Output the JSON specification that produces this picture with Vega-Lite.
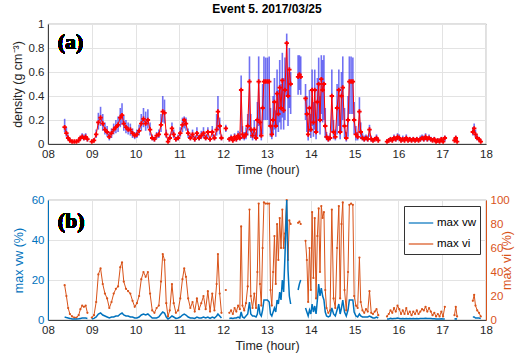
{
  "$schema": "https://vega.github.io/schema/vega-lite/v6.json",
  "padding": {"left": 10, "top": 2, "right": 2, "bottom": 4},
  "spacing": 16,
  "resolve": {"scale": {"color": "independent"}, "legend": {"color": "independent"}},
  "config": {
    "font": "Liberation Sans",
    "view": {"stroke": "#404040", "strokeWidth": 0.8},
    "axis": {"labelFontSize": 11.5, "titleFontSize": 12.5, "labelColor": "#262626", "titleColor": "#262626", "titleFontWeight": "normal", "gridColor": "#e3e3e3", "domainColor": "#404040", "ticks": false, "labelPadding": 4, "labelOverlap": false},
    "legend": {"labelFontSize": 11, "labelFont": "Liberation Sans"}
  },
  "datasets": {
    "ts": [
      {"t":8.38,"d":0.14,"lo":0.10,"hi":0.21,"vw":1.5,"vi":29},
      {"t":8.42,"d":0.09,"lo":0.06,"hi":0.14,"vw":1.2,"vi":20},
      {"t":8.46,"d":0.05,"lo":0.03,"hi":0.08,"vw":1.0,"vi":10},
      {"t":8.50,"d":0.03,"lo":0.02,"hi":0.05,"vw":0.8,"vi":5},
      {"t":8.55,"d":0.02,"lo":0.01,"hi":0.03,"vw":0.5,"vi":3},
      {"t":8.60,"d":0.02,"lo":0.01,"hi":0.03,"vw":0.5,"vi":2},
      {"t":8.65,"d":0.02,"lo":0.01,"hi":0.03,"vw":0.5,"vi":2},
      {"t":8.70,"d":0.03,"lo":0.02,"hi":0.05,"vw":0.6,"vi":4},
      {"t":8.74,"d":0.05,"lo":0.03,"hi":0.07,"vw":0.8,"vi":9},
      {"t":8.78,"d":0.06,"lo":0.04,"hi":0.09,"vw":1.0,"vi":12},
      {"t":8.82,"d":0.05,"lo":0.03,"hi":0.08,"vw":1.0,"vi":11},
      {"t":8.86,"d":0.06,"lo":0.04,"hi":0.09,"vw":1.0,"vi":12},
      {"t":8.90,"d":0.04,"lo":0.02,"hi":0.06,"vw":0.8,"vi":6},
      {"t":8.95,"d":null,"lo":null,"hi":null,"vw":null,"vi":null},
      {"t":9.00,"d":0.02,"lo":0.01,"hi":0.03,"vw":0.5,"vi":2},
      {"t":9.05,"d":0.03,"lo":0.02,"hi":0.05,"vw":0.8,"vi":4},
      {"t":9.10,"d":0.08,"lo":0.05,"hi":0.12,"vw":1.5,"vi":15},
      {"t":9.15,"d":0.18,"lo":0.12,"hi":0.26,"vw":3,"vi":38},
      {"t":9.20,"d":0.22,"lo":0.15,"hi":0.31,"vw":3.5,"vi":43},
      {"t":9.25,"d":0.17,"lo":0.11,"hi":0.25,"vw":2.5,"vi":30},
      {"t":9.30,"d":0.12,"lo":0.08,"hi":0.18,"vw":2,"vi":22},
      {"t":9.35,"d":0.10,"lo":0.06,"hi":0.15,"vw":1.5,"vi":18},
      {"t":9.40,"d":0.06,"lo":0.03,"hi":0.10,"vw":1,"vi":10},
      {"t":9.45,"d":0.09,"lo":0.05,"hi":0.13,"vw":1.5,"vi":15},
      {"t":9.50,"d":0.12,"lo":0.08,"hi":0.17,"vw":1.5,"vi":22},
      {"t":9.55,"d":0.14,"lo":0.09,"hi":0.20,"vw":2,"vi":26},
      {"t":9.60,"d":0.16,"lo":0.10,"hi":0.23,"vw":2,"vi":28},
      {"t":9.65,"d":0.22,"lo":0.14,"hi":0.30,"vw":3,"vi":44},
      {"t":9.69,"d":0.24,"lo":0.16,"hi":0.34,"vw":3.5,"vi":48},
      {"t":9.73,"d":0.17,"lo":0.11,"hi":0.24,"vw":2.5,"vi":32},
      {"t":9.78,"d":0.14,"lo":0.09,"hi":0.20,"vw":2,"vi":26},
      {"t":9.83,"d":0.12,"lo":0.08,"hi":0.18,"vw":2,"vi":24},
      {"t":9.88,"d":0.12,"lo":0.07,"hi":0.17,"vw":1.5,"vi":22},
      {"t":9.93,"d":0.09,"lo":0.05,"hi":0.13,"vw":1.5,"vi":16},
      {"t":9.98,"d":0.07,"lo":0.04,"hi":0.10,"vw":1,"vi":11},
      {"t":10.03,"d":0.08,"lo":0.05,"hi":0.12,"vw":1,"vi":14},
      {"t":10.08,"d":0.11,"lo":0.07,"hi":0.16,"vw":1.5,"vi":20},
      {"t":10.13,"d":0.17,"lo":0.11,"hi":0.25,"vw":2.5,"vi":34},
      {"t":10.18,"d":0.21,"lo":0.14,"hi":0.30,"vw":3,"vi":40},
      {"t":10.23,"d":0.17,"lo":0.11,"hi":0.27,"vw":2.5,"vi":36},
      {"t":10.28,"d":0.20,"lo":0.13,"hi":0.29,"vw":3,"vi":40},
      {"t":10.33,"d":0.12,"lo":0.07,"hi":0.18,"vw":2,"vi":22},
      {"t":10.38,"d":0.05,"lo":0.03,"hi":0.08,"vw":1,"vi":8},
      {"t":10.43,"d":0.04,"lo":0.02,"hi":0.06,"vw":1,"vi":6},
      {"t":10.48,"d":0.07,"lo":0.04,"hi":0.10,"vw":1,"vi":10},
      {"t":10.53,"d":0.08,"lo":0.05,"hi":0.12,"vw":1.5,"vi":12},
      {"t":10.58,"d":0.16,"lo":0.10,"hi":0.25,"vw":3,"vi":32},
      {"t":10.62,"d":0.27,"lo":0.18,"hi":0.40,"vw":4,"vi":55},
      {"t":10.66,"d":0.26,"lo":0.17,"hi":0.37,"vw":3.5,"vi":50},
      {"t":10.70,"d":0.08,"lo":0.05,"hi":0.12,"vw":1.5,"vi":14},
      {"t":10.74,"d":0.02,"lo":0.01,"hi":0.04,"vw":0.5,"vi":3},
      {"t":10.78,"d":0.05,"lo":0.03,"hi":0.08,"vw":1,"vi":8},
      {"t":10.83,"d":0.13,"lo":0.08,"hi":0.18,"vw":2,"vi":30},
      {"t":10.87,"d":0.08,"lo":0.05,"hi":0.12,"vw":1.5,"vi":14},
      {"t":10.92,"d":0.04,"lo":0.02,"hi":0.06,"vw":0.8,"vi":6},
      {"t":10.97,"d":0.05,"lo":0.03,"hi":0.08,"vw":1,"vi":8},
      {"t":11.02,"d":0.09,"lo":0.06,"hi":0.14,"vw":1.5,"vi":18},
      {"t":11.07,"d":0.16,"lo":0.10,"hi":0.22,"vw":2.5,"vi":34},
      {"t":11.11,"d":0.20,"lo":0.13,"hi":0.23,"vw":3,"vi":43},
      {"t":11.15,"d":0.17,"lo":0.11,"hi":0.22,"vw":2.5,"vi":36},
      {"t":11.20,"d":0.09,"lo":0.05,"hi":0.13,"vw":1.5,"vi":18},
      {"t":11.25,"d":0.05,"lo":0.03,"hi":0.08,"vw":1,"vi":10},
      {"t":11.30,"d":0.08,"lo":0.05,"hi":0.12,"vw":1,"vi":15},
      {"t":11.35,"d":0.04,"lo":0.02,"hi":0.07,"vw":0.8,"vi":7},
      {"t":11.40,"d":0.09,"lo":0.05,"hi":0.14,"vw":1.5,"vi":18},
      {"t":11.45,"d":0.05,"lo":0.03,"hi":0.08,"vw":1,"vi":9},
      {"t":11.50,"d":0.07,"lo":0.04,"hi":0.11,"vw":1,"vi":14},
      {"t":11.55,"d":0.09,"lo":0.05,"hi":0.14,"vw":1.5,"vi":20},
      {"t":11.60,"d":0.05,"lo":0.03,"hi":0.08,"vw":1,"vi":9},
      {"t":11.65,"d":0.10,"lo":0.05,"hi":0.14,"vw":1.5,"vi":24},
      {"t":11.70,"d":0.04,"lo":0.02,"hi":0.06,"vw":0.8,"vi":7},
      {"t":11.75,"d":0.10,"lo":0.06,"hi":0.15,"vw":1.5,"vi":22},
      {"t":11.80,"d":0.05,"lo":0.03,"hi":0.08,"vw":1,"vi":8},
      {"t":11.85,"d":0.12,"lo":0.07,"hi":0.25,"vw":2,"vi":30},
      {"t":11.88,"d":0.27,"lo":0.12,"hi":0.40,"vw":3,"vi":55},
      {"t":11.92,"d":0.15,"lo":0.08,"hi":0.22,"vw":2,"vi":22},
      {"t":11.96,"d":0.05,"lo":0.03,"hi":0.08,"vw":1,"vi":6},
      {"t":12.00,"d":null,"lo":null,"hi":null,"vw":null,"vi":null},
      {"t":12.06,"d":0.13,"lo":0.10,"hi":0.16,"vw":1,"vi":25},
      {"t":12.10,"d":null,"lo":null,"hi":null,"vw":null,"vi":null},
      {"t":12.14,"d":0.04,"lo":0.02,"hi":0.06,"vw":0.8,"vi":6},
      {"t":12.18,"d":0.05,"lo":0.03,"hi":0.08,"vw":1,"vi":8},
      {"t":12.22,"d":0.03,"lo":0.02,"hi":0.05,"vw":0.8,"vi":5},
      {"t":12.26,"d":0.06,"lo":0.03,"hi":0.09,"vw":1,"vi":10},
      {"t":12.30,"d":0.04,"lo":0.02,"hi":0.07,"vw":1,"vi":7},
      {"t":12.34,"d":0.07,"lo":0.04,"hi":0.11,"vw":1.5,"vi":12},
      {"t":12.38,"d":0.05,"lo":0.03,"hi":0.10,"vw":1,"vi":9},
      {"t":12.41,"d":0.45,"lo":0.10,"hi":0.57,"vw":4,"vi":78},
      {"t":12.44,"d":0.08,"lo":0.04,"hi":0.15,"vw":1.5,"vi":12},
      {"t":12.48,"d":0.06,"lo":0.03,"hi":0.10,"vw":1,"vi":8},
      {"t":12.52,"d":0.08,"lo":0.04,"hi":0.14,"vw":2,"vi":14},
      {"t":12.56,"d":0.15,"lo":0.07,"hi":0.25,"vw":3,"vi":28},
      {"t":12.60,"d":0.52,"lo":0.12,"hi":0.73,"vw":9,"vi":92},
      {"t":12.63,"d":0.12,"lo":0.05,"hi":0.25,"vw":3,"vi":20},
      {"t":12.67,"d":0.07,"lo":0.03,"hi":0.12,"vw":2,"vi":10},
      {"t":12.71,"d":0.12,"lo":0.05,"hi":0.20,"vw":2,"vi":22},
      {"t":12.75,"d":0.05,"lo":0.03,"hi":0.10,"vw":1.5,"vi":10},
      {"t":12.78,"d":0.20,"lo":0.06,"hi":0.35,"vw":3,"vi":40},
      {"t":12.81,"d":0.52,"lo":0.15,"hi":0.73,"vw":8,"vi":97},
      {"t":12.84,"d":0.18,"lo":0.06,"hi":0.30,"vw":3,"vi":30},
      {"t":12.87,"d":0.07,"lo":0.03,"hi":0.12,"vw":2,"vi":12},
      {"t":12.90,"d":0.30,"lo":0.08,"hi":0.50,"vw":5,"vi":60},
      {"t":12.93,"d":0.52,"lo":0.20,"hi":0.73,"vw":10,"vi":98},
      {"t":12.97,"d":0.52,"lo":0.20,"hi":0.72,"vw":10,"vi":97},
      {"t":13.01,"d":0.52,"lo":0.20,"hi":0.72,"vw":10,"vi":97},
      {"t":13.05,"d":0.52,"lo":0.15,"hi":0.73,"vw":9,"vi":97},
      {"t":13.08,"d":0.15,"lo":0.06,"hi":0.30,"vw":3,"vi":25},
      {"t":13.11,"d":0.08,"lo":0.04,"hi":0.15,"vw":2,"vi":12},
      {"t":13.14,"d":0.20,"lo":0.08,"hi":0.40,"vw":4,"vi":40},
      {"t":13.17,"d":0.35,"lo":0.12,"hi":0.55,"vw":6,"vi":70},
      {"t":13.20,"d":0.15,"lo":0.06,"hi":0.28,"vw":4,"vi":30},
      {"t":13.23,"d":0.42,"lo":0.15,"hi":0.62,"vw":10,"vi":80},
      {"t":13.26,"d":0.25,"lo":0.10,"hi":0.45,"vw":8,"vi":50},
      {"t":13.29,"d":0.47,"lo":0.18,"hi":0.70,"vw":14,"vi":85},
      {"t":13.32,"d":0.30,"lo":0.12,"hi":0.50,"vw":10,"vi":60},
      {"t":13.35,"d":0.53,"lo":0.22,"hi":0.76,"vw":20,"vi":92},
      {"t":13.38,"d":0.28,"lo":0.12,"hi":0.55,"vw":14,"vi":60},
      {"t":13.41,"d":0.45,"lo":0.20,"hi":0.72,"vw":32,"vi":72},
      {"t":13.45,"d":0.84,"lo":0.40,"hi":0.92,"vw":60,"vi":100},
      {"t":13.48,"d":0.40,"lo":0.15,"hi":0.60,"vw":25,"vi":50},
      {"t":13.51,"d":0.62,"lo":0.30,"hi":0.80,"vw":12,"vi":83},
      {"t":13.54,"d":0.50,"lo":0.25,"hi":0.60,"vw":8,"vi":80},
      {"t":13.58,"d":null,"lo":null,"hi":null,"vw":null,"vi":null},
      {"t":13.71,"d":0.56,"lo":0.41,"hi":0.74,"vw":15,"vi":81},
      {"t":13.74,"d":0.58,"lo":0.45,"hi":0.74,"vw":18,"vi":82},
      {"t":13.77,"d":0.56,"lo":0.41,"hi":0.73,"vw":20,"vi":80},
      {"t":13.80,"d":null,"lo":null,"hi":null,"vw":null,"vi":null},
      {"t":13.88,"d":0.38,"lo":0.20,"hi":0.50,"vw":6,"vi":66},
      {"t":13.91,"d":0.25,"lo":0.10,"hi":0.40,"vw":4,"vi":50},
      {"t":13.94,"d":0.08,"lo":0.03,"hi":0.15,"vw":2,"vi":15},
      {"t":13.97,"d":0.30,"lo":0.10,"hi":0.45,"vw":5,"vi":60},
      {"t":14.00,"d":0.12,"lo":0.05,"hi":0.25,"vw":3,"vi":25},
      {"t":14.03,"d":0.45,"lo":0.15,"hi":0.62,"vw":8,"vi":90},
      {"t":14.06,"d":0.18,"lo":0.06,"hi":0.35,"vw":4,"vi":35},
      {"t":14.09,"d":0.45,"lo":0.12,"hi":0.62,"vw":7,"vi":85},
      {"t":14.12,"d":0.10,"lo":0.04,"hi":0.20,"vw":3,"vi":18},
      {"t":14.15,"d":0.35,"lo":0.10,"hi":0.55,"vw":10,"vi":70},
      {"t":14.18,"d":0.50,"lo":0.20,"hi":0.72,"vw":18,"vi":93},
      {"t":14.21,"d":0.20,"lo":0.08,"hi":0.40,"vw":12,"vi":40},
      {"t":14.24,"d":0.54,"lo":0.25,"hi":0.74,"vw":16,"vi":95},
      {"t":14.27,"d":0.45,"lo":0.18,"hi":0.70,"vw":12,"vi":85},
      {"t":14.30,"d":0.50,"lo":0.20,"hi":0.74,"vw":10,"vi":90},
      {"t":14.33,"d":0.15,"lo":0.05,"hi":0.30,"vw":4,"vi":25},
      {"t":14.36,"d":0.06,"lo":0.03,"hi":0.10,"vw":2,"vi":10},
      {"t":14.40,"d":0.04,"lo":0.02,"hi":0.07,"vw":1.5,"vi":6},
      {"t":14.44,"d":0.05,"lo":0.03,"hi":0.09,"vw":2,"vi":8},
      {"t":14.48,"d":0.40,"lo":0.10,"hi":0.62,"vw":6,"vi":92},
      {"t":14.52,"d":0.10,"lo":0.04,"hi":0.20,"vw":3,"vi":18},
      {"t":14.56,"d":0.06,"lo":0.03,"hi":0.12,"vw":2,"vi":10},
      {"t":14.60,"d":0.30,"lo":0.08,"hi":0.50,"vw":5,"vi":60},
      {"t":14.64,"d":0.45,"lo":0.15,"hi":0.62,"vw":8,"vi":95},
      {"t":14.67,"d":0.10,"lo":0.04,"hi":0.20,"vw":3,"vi":18},
      {"t":14.70,"d":0.40,"lo":0.10,"hi":0.60,"vw":6,"vi":80},
      {"t":14.73,"d":0.47,"lo":0.20,"hi":0.73,"vw":10,"vi":98},
      {"t":14.77,"d":0.15,"lo":0.05,"hi":0.30,"vw":4,"vi":25},
      {"t":14.81,"d":0.05,"lo":0.02,"hi":0.10,"vw":2,"vi":8},
      {"t":14.85,"d":0.20,"lo":0.06,"hi":0.40,"vw":5,"vi":40},
      {"t":14.88,"d":0.52,"lo":0.25,"hi":0.73,"vw":10,"vi":96},
      {"t":14.92,"d":0.52,"lo":0.25,"hi":0.73,"vw":10,"vi":97},
      {"t":14.96,"d":0.52,"lo":0.25,"hi":0.72,"vw":10,"vi":96},
      {"t":14.99,"d":0.20,"lo":0.08,"hi":0.35,"vw":4,"vi":20},
      {"t":15.03,"d":0.08,"lo":0.03,"hi":0.15,"vw":2,"vi":12},
      {"t":15.07,"d":0.06,"lo":0.03,"hi":0.10,"vw":1.5,"vi":10},
      {"t":15.11,"d":0.27,"lo":0.10,"hi":0.39,"vw":3,"vi":52},
      {"t":15.14,"d":0.10,"lo":0.04,"hi":0.18,"vw":2,"vi":15},
      {"t":15.18,"d":0.05,"lo":0.03,"hi":0.09,"vw":1.5,"vi":8},
      {"t":15.22,"d":0.04,"lo":0.02,"hi":0.07,"vw":1.5,"vi":6},
      {"t":15.26,"d":0.05,"lo":0.03,"hi":0.08,"vw":1.5,"vi":9},
      {"t":15.30,"d":0.04,"lo":0.02,"hi":0.07,"vw":1.5,"vi":7},
      {"t":15.34,"d":0.12,"lo":0.06,"hi":0.16,"vw":2,"vi":24},
      {"t":15.38,"d":0.04,"lo":0.02,"hi":0.07,"vw":1.5,"vi":6},
      {"t":15.42,"d":0.03,"lo":0.02,"hi":0.05,"vw":1,"vi":5},
      {"t":15.46,"d":0.04,"lo":0.02,"hi":0.06,"vw":1,"vi":7},
      {"t":15.50,"d":0.05,"lo":0.03,"hi":0.08,"vw":1.5,"vi":9},
      {"t":15.54,"d":0.03,"lo":0.02,"hi":0.05,"vw":1,"vi":4},
      {"t":15.58,"d":null,"lo":null,"hi":null,"vw":null,"vi":null},
      {"t":15.74,"d":0.02,"lo":0.01,"hi":0.04,"vw":0.5,"vi":3},
      {"t":15.78,"d":0.03,"lo":0.02,"hi":0.05,"vw":0.5,"vi":5},
      {"t":15.82,"d":0.04,"lo":0.02,"hi":0.06,"vw":0.8,"vi":8},
      {"t":15.86,"d":0.03,"lo":0.02,"hi":0.05,"vw":0.6,"vi":6},
      {"t":15.90,"d":0.05,"lo":0.03,"hi":0.08,"vw":0.8,"vi":10},
      {"t":15.94,"d":0.04,"lo":0.02,"hi":0.06,"vw":0.8,"vi":7},
      {"t":15.98,"d":0.06,"lo":0.03,"hi":0.09,"vw":1,"vi":12},
      {"t":16.02,"d":0.05,"lo":0.03,"hi":0.08,"vw":0.8,"vi":9},
      {"t":16.06,"d":0.03,"lo":0.02,"hi":0.05,"vw":0.6,"vi":5},
      {"t":16.10,"d":0.04,"lo":0.02,"hi":0.07,"vw":0.8,"vi":8},
      {"t":16.14,"d":0.03,"lo":0.02,"hi":0.05,"vw":0.6,"vi":5},
      {"t":16.18,"d":0.05,"lo":0.03,"hi":0.08,"vw":0.8,"vi":10},
      {"t":16.22,"d":0.03,"lo":0.02,"hi":0.05,"vw":0.6,"vi":5},
      {"t":16.26,"d":0.04,"lo":0.02,"hi":0.06,"vw":0.7,"vi":7},
      {"t":16.30,"d":0.03,"lo":0.02,"hi":0.05,"vw":0.6,"vi":4},
      {"t":16.34,"d":0.04,"lo":0.02,"hi":0.06,"vw":0.7,"vi":7},
      {"t":16.38,"d":0.03,"lo":0.02,"hi":0.05,"vw":0.6,"vi":5},
      {"t":16.42,"d":0.04,"lo":0.02,"hi":0.06,"vw":0.7,"vi":8},
      {"t":16.46,"d":0.03,"lo":0.02,"hi":0.05,"vw":0.6,"vi":5},
      {"t":16.50,"d":0.04,"lo":0.02,"hi":0.07,"vw":0.7,"vi":7},
      {"t":16.54,"d":0.05,"lo":0.03,"hi":0.08,"vw":0.8,"vi":9},
      {"t":16.58,"d":0.04,"lo":0.02,"hi":0.07,"vw":0.7,"vi":8},
      {"t":16.62,"d":0.06,"lo":0.03,"hi":0.09,"vw":0.9,"vi":11},
      {"t":16.66,"d":0.04,"lo":0.02,"hi":0.06,"vw":0.7,"vi":7},
      {"t":16.70,"d":0.05,"lo":0.03,"hi":0.08,"vw":0.8,"vi":10},
      {"t":16.74,"d":0.04,"lo":0.02,"hi":0.06,"vw":0.7,"vi":7},
      {"t":16.78,"d":0.03,"lo":0.02,"hi":0.05,"vw":0.6,"vi":4},
      {"t":16.82,"d":0.04,"lo":0.02,"hi":0.06,"vw":0.6,"vi":6},
      {"t":16.86,"d":0.02,"lo":0.01,"hi":0.04,"vw":0.5,"vi":3},
      {"t":16.90,"d":0.03,"lo":0.02,"hi":0.05,"vw":0.5,"vi":5},
      {"t":16.94,"d":0.02,"lo":0.01,"hi":0.04,"vw":0.5,"vi":3},
      {"t":16.98,"d":0.04,"lo":0.02,"hi":0.06,"vw":0.6,"vi":7},
      {"t":17.02,"d":0.02,"lo":0.01,"hi":0.04,"vw":0.5,"vi":3},
      {"t":17.06,"d":0.05,"lo":0.02,"hi":0.07,"vw":0.5,"vi":11},
      {"t":17.09,"d":null,"lo":null,"hi":null,"vw":null,"vi":null},
      {"t":17.28,"d":0.03,"lo":0.02,"hi":0.05,"vw":0.5,"vi":4},
      {"t":17.31,"d":0.05,"lo":0.03,"hi":0.07,"vw":0.6,"vi":11},
      {"t":17.34,"d":0.02,"lo":0.01,"hi":0.04,"vw":0.5,"vi":3},
      {"t":17.37,"d":null,"lo":null,"hi":null,"vw":null,"vi":null},
      {"t":17.70,"d":0.10,"lo":0.07,"hi":0.14,"vw":1.5,"vi":16},
      {"t":17.73,"d":0.13,"lo":0.09,"hi":0.17,"vw":1.5,"vi":21},
      {"t":17.76,"d":0.08,"lo":0.05,"hi":0.12,"vw":1,"vi":12},
      {"t":17.80,"d":0.05,"lo":0.03,"hi":0.08,"vw":1,"vi":8},
      {"t":17.84,"d":0.04,"lo":0.02,"hi":0.06,"vw":1,"vi":6},
      {"t":17.88,"d":0.02,"lo":0.01,"hi":0.04,"vw":0.8,"vi":3}
    ]
  },
  "vconcat": [
    {
      "width": 438,
      "height": 120,
      "title": {"text": "Event 5. 2017/03/25", "fontSize": 12, "fontWeight": "bold", "color": "#000000", "offset": 2, "font": "Liberation Sans"},
      "data": {"name": "ts"},
      "encoding": {
        "x": {"field": "t", "type": "quantitative", "scale": {"domain": [8, 18], "nice": false, "zero": false},
              "axis": {"values": [8,9,10,11,12,13,14,15,16,17,18], "labelExpr": "datum.value < 10 ? '0' + datum.value : '' + datum.value", "title": "Time (hour)", "titlePadding": 4, "labelFlush": false}}
      },
      "layer": [
        {
          "mark": {"type": "rule", "color": "#3535ee", "opacity": 0.7, "strokeWidth": 1.6},
          "encoding": {
            "y": {"field": "lo", "type": "quantitative", "scale": {"domain": [0, 1], "nice": false},
                  "axis": {"values": [0,0.2,0.4,0.6,0.8,1], "format": "~g", "title": "density (g cm⁻³)", "titlePadding": 4, "grid": true}},
            "y2": {"field": "hi"}
          }
        },
        {
          "mark": {"type": "line", "color": "#ff0000", "strokeWidth": 1, "point": {"filled": true, "color": "#ff0000", "size": 20, "shape": "cross"}},
          "encoding": {"y": {"field": "d", "type": "quantitative", "scale": {"domain": [0, 1], "nice": false},
                  "axis": {"values": [0,0.2,0.4,0.6,0.8,1], "format": "~g", "title": "density (g cm⁻³)", "titlePadding": 4, "grid": true}}}
        },
        {
          "mark": {"type": "text", "text": "(a)", "font": "Liberation Serif", "fontSize": 22, "fontWeight": "bold", "align": "left", "baseline": "alphabetic", "color": "#000000"},
          "encoding": {"x": {"datum": 8.22}, "y": {"datum": 0.79, "type": "quantitative", "scale": {"domain": [0, 1], "nice": false},
                  "axis": {"values": [0,0.2,0.4,0.6,0.8,1], "format": "~g", "title": "density (g cm⁻³)", "titlePadding": 4, "grid": true}}}
        }
      ]
    },
    {
      "width": 438,
      "height": 120,
      "data": {"name": "ts"},
      "encoding": {
        "x": {"field": "t", "type": "quantitative", "scale": {"domain": [8, 18], "nice": false, "zero": false},
              "axis": {"values": [8,9,10,11,12,13,14,15,16,17,18], "labelExpr": "datum.value < 10 ? '0' + datum.value : '' + datum.value", "title": "Time (hour)", "titlePadding": 4, "labelFlush": false}}
      },
      "layer": [
        {
          "mark": {"type": "line", "strokeWidth": 1, "point": {"filled": true, "size": 5}},
          "encoding": {
            "y": {"field": "vi", "type": "quantitative", "scale": {"domain": [0, 100], "nice": false},
                  "axis": {"orient": "right", "values": [0,20,40,60,80,100], "title": "max vi (%)", "titleAngle": 270, "titlePadding": 4, "grid": false, "labelColor": "#D95319", "titleColor": "#D95319", "domainColor": "#D95319"}},
            "color": {"datum": "max vi", "type": "nominal", "scale": {"domain": ["max vw", "max vi"], "range": ["#0072BD", "#D95319"]},
                      "legend": {"title": null, "orient": "top-right", "offset": 6, "strokeColor": "#333333", "fillColor": "#ffffff", "padding": 4, "symbolType": "stroke", "symbolStrokeWidth": 1.2, "symbolSize": 600, "rowPadding": 2, "labelFontSize": 11.5, "labelOffset": 3}}
          }
        },
        {
          "layer": [
            {
              "mark": {"type": "line", "strokeWidth": 1.5},
              "encoding": {
                "y": {"field": "vw", "type": "quantitative", "scale": {"domain": [0, 60], "nice": false},
                      "axis": {"orient": "left", "values": [0,20,40,60], "title": "max vw (%)", "titlePadding": 6, "grid": true, "labelColor": "#0072BD", "titleColor": "#0072BD", "domainColor": "#0072BD"}},
                "color": {"datum": "max vw", "type": "nominal"}
              }
            },
            {
              "mark": {"type": "text", "text": "(b)", "font": "Liberation Serif", "fontSize": 22, "fontWeight": "bold", "align": "left", "baseline": "alphabetic", "color": "#000000"},
              "encoding": {"x": {"datum": 8.22}, "y": {"datum": 46, "type": "quantitative", "scale": {"domain": [0, 60], "nice": false},
                      "axis": {"orient": "left", "values": [0,20,40,60], "title": "max vw (%)", "titlePadding": 6, "grid": true, "labelColor": "#0072BD", "titleColor": "#0072BD", "domainColor": "#0072BD"}}}
            }
          ]
        }
      ],
      "resolve": {"scale": {"y": "independent"}}
    }
  ]
}
